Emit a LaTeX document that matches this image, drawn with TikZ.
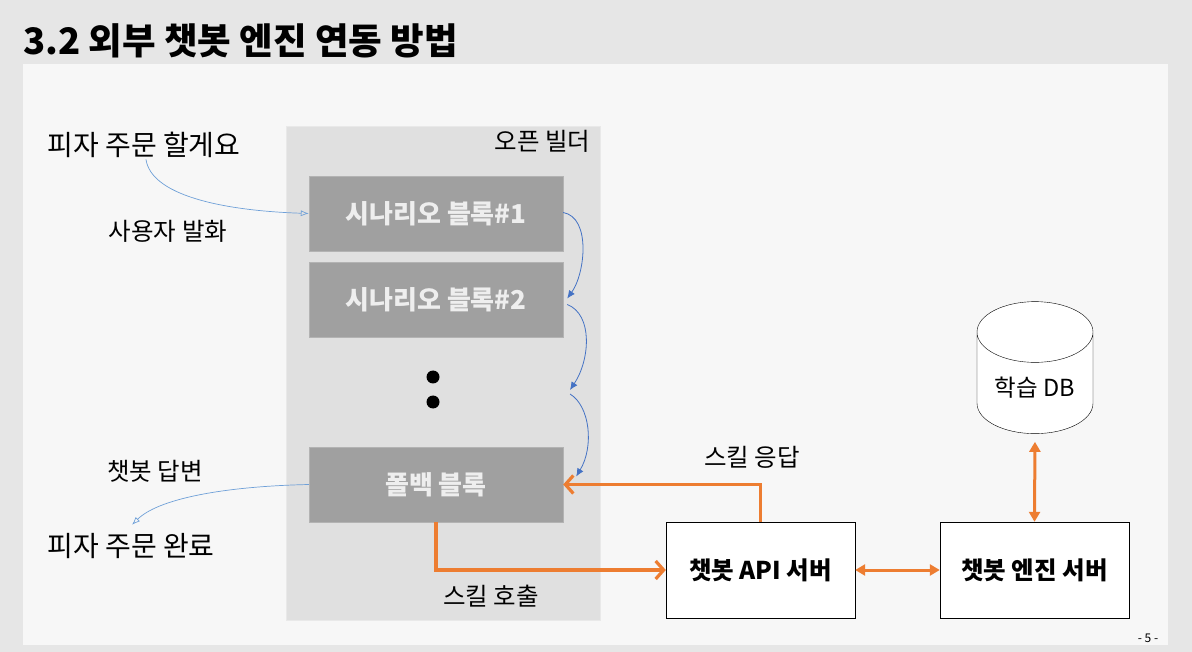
\documentclass[tikz,border=0pt]{standalone}
\usepackage{fontspec}
\setmainfont{Noto Sans CJK KR}
\usepackage{tikz}
\usetikzlibrary{arrows.meta, positioning, calc, shapes.geometric}
\definecolor{pagebg}{HTML}{E6E6E6}
\definecolor{panelbg}{HTML}{F7F7F7}
\definecolor{builderbg}{HTML}{E0E0E0}
\definecolor{blockgray}{HTML}{A0A0A0}
\definecolor{blocktext}{HTML}{EEEEEE}
\definecolor{skillorange}{HTML}{ED7D31}
\definecolor{flowblue}{HTML}{4472C4}
\definecolor{talkblue}{HTML}{6FA0D8}

\begin{document}
\begin{tikzpicture}[x=1pt, y=1pt,
    block/.style={fill=blockgray, draw=blockgray!80!white, minimum width=254pt, minimum height=75pt, text=blocktext, font=\fontsize{26}{30}\selectfont\bfseries},
    server/.style={draw, fill=white, minimum width=189pt, minimum height=96pt, font=\fontsize{24.5}{28}\selectfont\bfseries},
    txt/.style={font=\fontsize{24.5}{28}\selectfont},
    bigtxt/.style={font=\fontsize{28}{32}\selectfont},
    flow/.style={flowblue, line width=0.8pt, -{Latex[length=8pt, width=7pt]}},
    talk/.style={talkblue, line width=0.7pt, -{Latex[length=8pt, width=6pt, open]}},
    skill/.style={skillorange, line width=3.2pt, -{Straight Barb[length=8pt, width=18pt]}},
    link/.style={skillorange, line width=3pt, {Triangle[length=10pt, width=11pt]}-{Triangle[length=10pt, width=11pt]}}
]
\useasboundingbox (0,0) rectangle (1192,-652);

% --- Slide background ---
\fill[pagebg] (0,0) rectangle (1192,-652);
\fill[panelbg] (23,-64) rectangle (1168,-645);
\node[anchor=base west, inner sep=0pt, font=\fontsize{36.5}{42}\selectfont\bfseries] (title) at (23,-55) {3.2 외부 챗봇 엔진 연동 방법};

% --- Open builder ---
\node[fill=builderbg, draw=builderbg!70!white, minimum width=314pt, minimum height=494pt] (builder) at (443,-373) {};
\node[txt, anchor=north east] (builder_lbl) at (594,-127) {오픈 빌더};
\node[block] (blk1) at (436,-213.5) {시나리오 블록\#1};
\node[block] (blk2) at (436,-299.5) {시나리오 블록\#2};
\node[block] (fallback) at (436,-484.5) {폴백 블록};
\node[circle, fill=black, inner sep=0pt, minimum size=13pt] (dot1) at (433,-377) {};
\node[circle, fill=black, inner sep=0pt, minimum size=13pt] (dot2) at (433,-402) {};
\coordinate (gap) at (570,-390);

\draw[flow] ([yshift=1pt]blk1.east) .. controls +(28,-5) and +(18,25) .. ([xshift=4pt,yshift=1pt]blk2.east);
\draw[flow] ([xshift=4pt,yshift=-5pt]blk2.east) .. controls +(26,-10) and +(20,30) .. (gap);
\draw[flow] ([yshift=-4pt]gap) .. controls +(20,-12) and +(18,30) .. ([xshift=13pt,yshift=8pt]fallback.east);

% --- User side ---
\node[bigtxt, anchor=west] (order) at (44,-145) {피자 주문 할게요};
\node[txt] (utter_lbl) at (168,-231) {사용자 발화};
\node[txt] (answer_lbl) at (155,-471) {챗봇 답변};
\node[bigtxt, anchor=west] (done) at (44,-546) {피자 주문 완료};
\draw[talk] ([xshift=2pt,yshift=2pt]order.south) .. controls +(5,-35) and +(-90,3) .. (blk1.west);
\draw[talk] (fallback.west) .. controls +(-90,-2) and +(25,25) .. ([xshift=1pt,yshift=5pt]done.north);

% --- Servers ---
\node[server] (api) at (760.5,-570) {챗봇 API 서버};
\node[server] (engine) at (1034.5,-570) {챗봇 엔진 서버};
\node[draw, fill=white, cylinder, shape border rotate=90, aspect=0.7, minimum width=116pt, minimum height=132pt, font=\fontsize{23.5}{27}\selectfont] (db) at (1035,-388) {학습 DB};

\draw[skill] (fallback.south) |- (api.west);
\draw[skill] (api.north) |- (fallback.east);
\draw[link] (api.east) -- (engine.west);
\draw[link, shorten <=8pt] (db.south) -- (engine.north);
\node[txt] (call_lbl) at (491,-596) {스킬 호출};
\node[txt] (reply_lbl) at (752,-457) {스킬 응답};

% --- Page number ---
\node[font=\fontsize{12}{14}\selectfont] (page) at (1148,-638) {- 5 -};

\end{tikzpicture}
\end{document}
